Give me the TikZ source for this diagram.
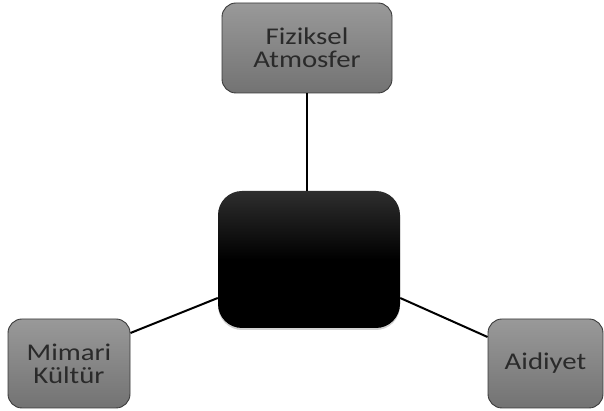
\documentclass[tikz,border=0pt]{standalone}
\usepackage{fontspec}
\setmainfont[FakeStretch=1.2]{Carlito}
\usetikzlibrary{shadows}
\definecolor{txt}{HTML}{2A2A2A}
\definecolor{edge}{HTML}{3A3A3A}
\tikzset{
  sidebox/.style={draw=edge, line width=0.9pt, rounded corners=14pt,
    top color=black!40, bottom color=black!55, text=txt,
    align=center, font=\fontsize{24}{23}\selectfont, inner sep=0pt},
  hubbox/.style={rounded corners=24pt, top color=black!82, bottom color=black,
    middle color=black, draw=none,
    drop shadow={opacity=0.35, shadow xshift=0pt, shadow yshift=-2pt}},
  link/.style={line width=2pt, black}
}
\begin{document}
\begin{tikzpicture}[x=1pt,y=1pt]
\useasboundingbox (0,0) rectangle (604,411);
\node[hubbox, minimum width=182pt, minimum height=137pt] (hub) at (309,151.5) {};
\node[sidebox, minimum width=170pt, minimum height=90pt] (top) at (307,363) {Fiziksel\\Atmosfer};
\node[sidebox, minimum width=122pt, minimum height=89pt] (left) at (69,47.5) {Mimari\\Kültür};
\node[sidebox, minimum width=115pt, minimum height=89pt] (right) at (545.5,47.5) {Aidiyet};
\draw[link] (top.south) -- (top.south |- hub.north);
\draw[link] ([yshift=-38.5pt]hub.west) -- ([yshift=30.5pt]left.east);
\draw[link] ([yshift=-38.5pt]hub.east) -- ([yshift=26.5pt]right.west);
\end{tikzpicture}
\end{document}
